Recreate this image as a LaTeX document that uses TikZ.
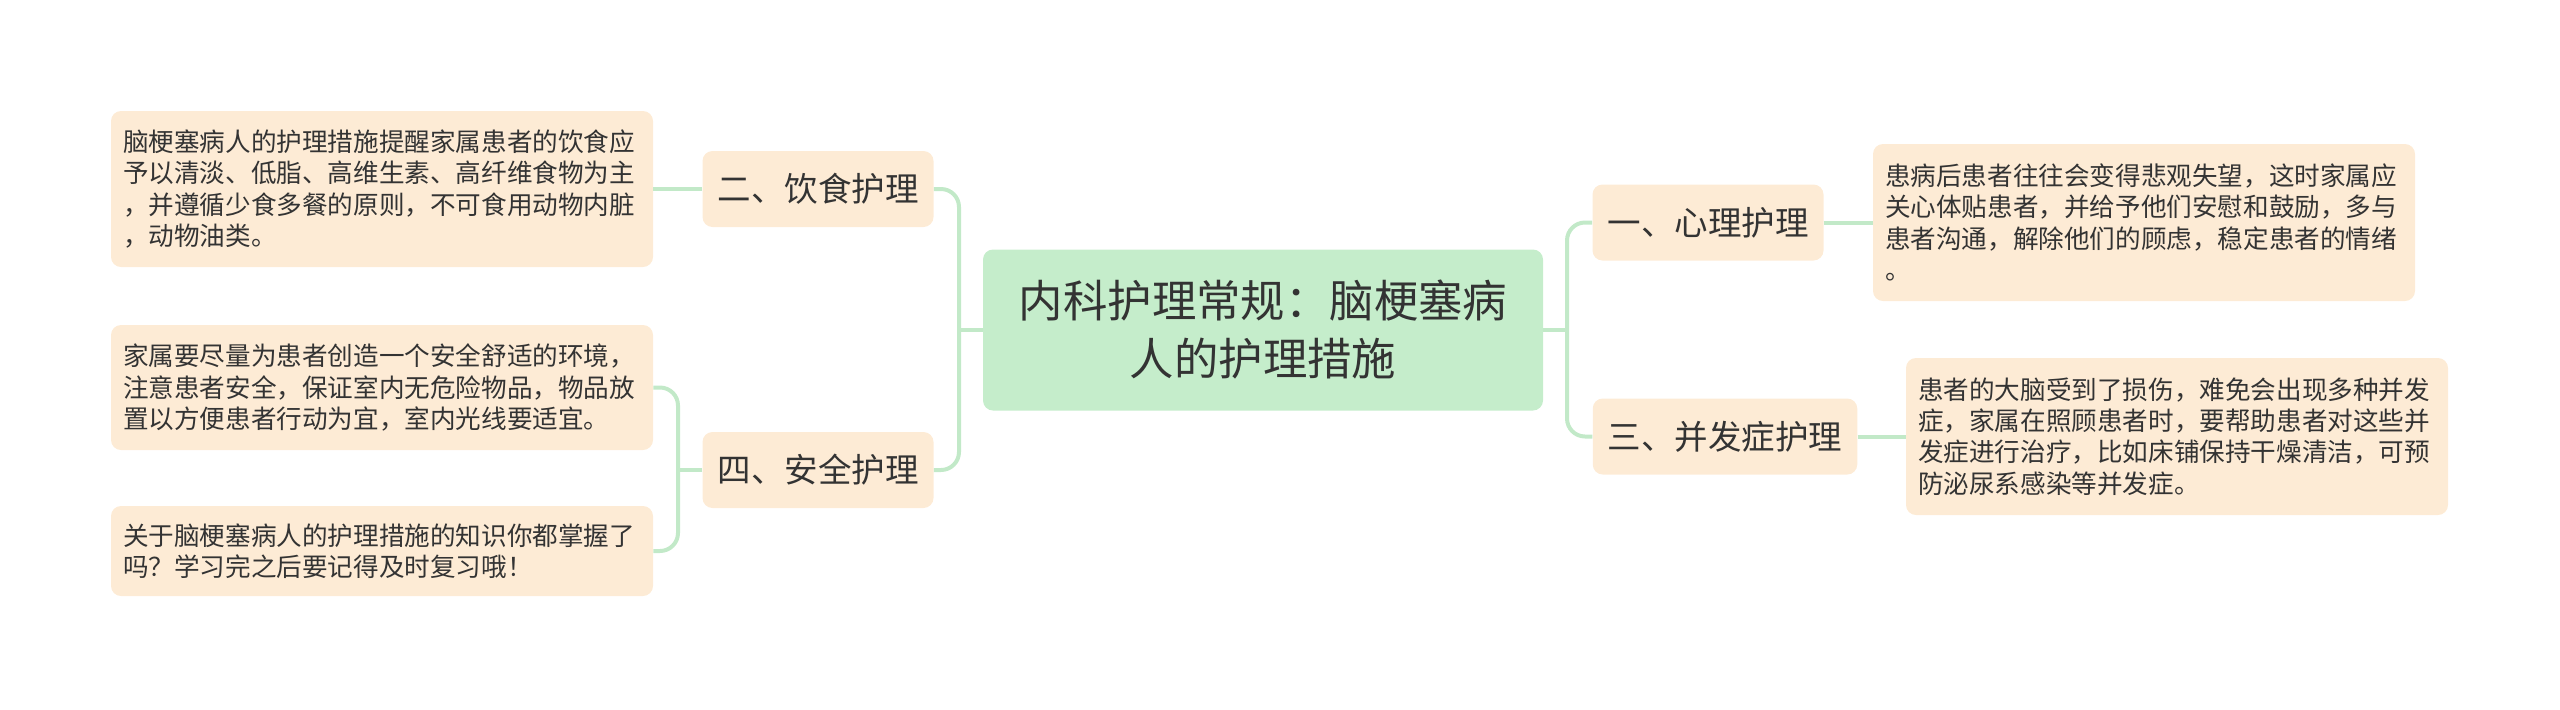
\documentclass[tikz,border=0pt]{standalone}
\usepackage{fontspec}
\newfontfamily\cjk{Noto Sans CJK SC}
\definecolor{peach}{HTML}{FDEBD5}
\definecolor{rootgreen}{HTML}{C5EDCB}
\definecolor{linkgreen}{HTML}{C2E9C8}
\definecolor{ink}{HTML}{333333}
\begin{document}
\begin{tikzpicture}[x=0.5pt,y=-0.5pt,
    topic/.style={fill=rootgreen,rounded corners=5pt,align=center,minimum width=280pt,minimum height=80.5pt,text=ink,font=\cjk\fontsize{22.2}{29}\selectfont},
    sub/.style={fill=peach,rounded corners=5pt,inner xsep=7.5pt,minimum height=38pt,text=ink,font=\cjk\fontsize{16.75}{20}\selectfont},
    note/.style={fill=peach,rounded corners=5pt,inner xsep=6pt,text width=259pt,align=left,text=ink,font=\cjk\fontsize{12.8}{15.6}\selectfont},
    link/.style={draw=linkgreen,line width=2pt,rounded corners=9pt}]
    \useasboundingbox (0,0) rectangle (2560,709);

        \node [topic] (root) at (1263,330) {内科护理常规：脑梗塞病\\人的护理措施};

        \node [sub] (xinli)  at (1708,222.5) {一、心理护理};
        \node [sub] (yinshi) at (818,189)    {二、饮食护理};
        \node [sub] (bingfa) at (1725,436.5) {三、并发症护理};
        \node [sub] (anquan) at (818,470)    {四、安全护理};

        \node [note,minimum height=78pt]   (yinshiA) at (382,189)   {脑梗塞病人的护理措施提醒家属患者的饮食应\\予以清淡、低脂、高维生素、高纤维食物为主\\，并遵循少食多餐的原则，不可食用动物内脏\\，动物油类。};
        \node [note,minimum height=62.5pt] (anquanA) at (382,387.5) {家属要尽量为患者创造一个安全舒适的环境，\\注意患者安全，保证室内无危险物品，物品放\\置以方便患者行动为宜，室内光线要适宜。};
        \node [note,minimum height=45pt]   (anquanB) at (382,551)   {关于脑梗塞病人的护理措施的知识你都掌握了\\吗？学习完之后要记得及时复习哦！};
        \node [note,minimum height=78.5pt] (xinliA)  at (2144,222.5) {患病后患者往往会变得悲观失望，这时家属应\\关心体贴患者，并给予他们安慰和鼓励，多与\\患者沟通，解除他们的顾虑，稳定患者的情绪\\。};
        \node [note,minimum height=78.5pt] (bingfaA) at (2177,436.5) {患者的大脑受到了损伤，难免会出现多种并发\\症，家属在照顾患者时，要帮助患者对这些并\\发症进行治疗，比如床铺保持干燥清洁，可预\\防泌尿系感染等并发症。};

        \coordinate (lsplit) at (959,330);
        \coordinate (rsplit) at (1567,330);
        \coordinate (asplit) at (678,470);

        \draw[link] (root.west) -- (lsplit);
        \draw[link] (yinshi.east) -| (lsplit) |- (anquan.east);
        \draw[link] (root.east) -- (rsplit);
        \draw[link] (xinli.west) -| (rsplit) |- (bingfa.west);
        \draw[link] (anquan.west) -- (asplit);
        \draw[link] (anquanA.east) -| (asplit) |- (anquanB.east);
        \draw[link] (yinshi.west) -- (yinshiA.east);
        \draw[link] (xinli.east) -- (xinliA.west);
        \draw[link] (bingfa.east) -- (bingfaA.west);

    \end{tikzpicture}
\end{document}
